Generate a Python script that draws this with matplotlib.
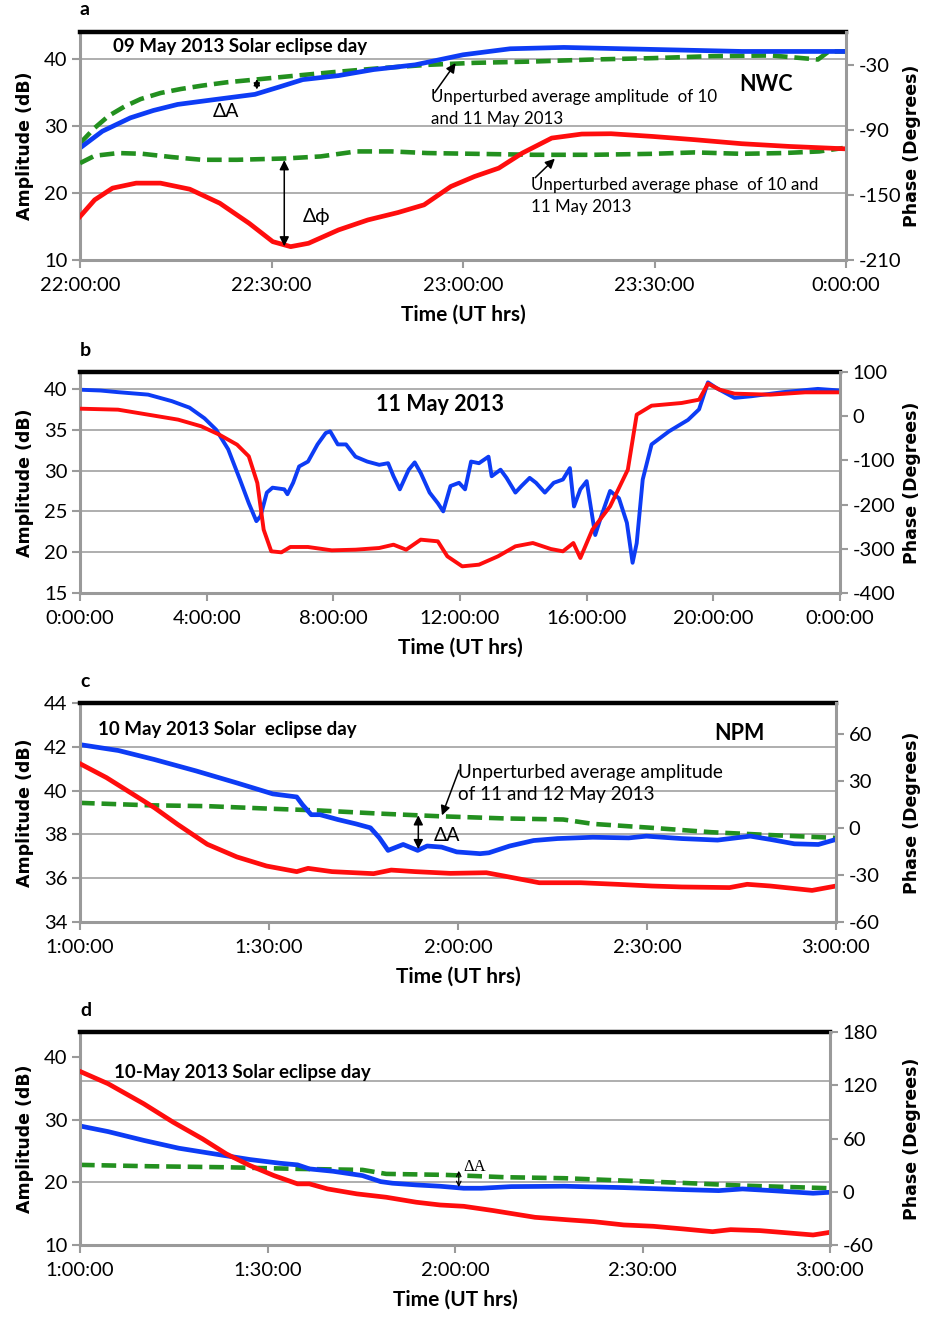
import numpy as np
import matplotlib.pyplot as plt

plt.rcParams['font.family'] = ['Lato', 'DejaVu Sans']
plt.rcParams['axes.unicode_minus'] = False

BLUE = '#0d3cf5'
RED = '#ff0d0d'
GREEN = '#23901f'
SPINE = '#9a9a9a'
GRID = '#a8a8a8'

# ---- panel a : NWC, 09 May 2013, minutes after 22:00 UT ----
a_amp_t = [0, 3.5, 7.9, 11.5, 15.3, 20.9, 27.4, 31.2, 34.9, 40.5, 46.0, 52.5, 56.0, 60.0, 67.4, 75.8, 85.1,
           94.4, 103.7, 113, 120]
a_amp = [26.7, 29.2, 31.2, 32.3, 33.2, 33.9, 34.7, 35.8, 36.9, 37.5, 38.4, 39.1, 39.8, 40.6, 41.5, 41.7,
         41.5, 41.3, 41.1, 41.1, 41.1]
a_amp_ref_t = [0, 2.3, 4.5, 7.0, 9.5, 12.6, 15.8, 19.1, 23.0, 27.4, 33.9, 39.5, 47.0, 54.4, 61.8, 71.1, 80.4,
               89.7, 99.0, 108.3, 115.6, 117.3, 120]
a_amp_ref = [27.4, 29.7, 31.5, 32.9, 34.0, 34.9, 35.5, 36.0, 36.5, 36.9, 37.5, 38.0, 38.6, 39.1, 39.4, 39.6,
             39.9, 40.1, 40.4, 40.5, 39.9, 41.1, 41.1]
a_ph_t = [0, 2.3, 5.1, 8.8, 12.6, 17.2, 21.9, 26.5, 30.2, 33.0, 35.8, 40.5, 45.1, 49.8, 53.9, 58.1, 61.8, 65.6,
          69.3, 73.9, 78.6, 83.2, 89.7, 96.3, 103.7, 111.1, 119.5]
a_ph = [-170, -154.6, -143.8, -139.2, -139.2, -144.8, -157.7, -176.2, -193.1, -197.7, -194.6, -182.3, -173.1,
        -166.3, -159.2, -142.3, -133.1, -125.4, -111.5, -97.7, -94.0, -93.7, -96.2, -99.2, -102.9, -105.4, -107.5]
a_ph_ref_t = [0, 2.3, 6.0, 9.8, 14.4, 19.1, 24.6, 32.1, 37.7, 43.3, 48.8, 54.4, 61.8, 71.1, 80.4, 89.7, 96.3,
              103.7, 110.2, 115.8, 119.5]
a_ph_ref = [-120.8, -114.0, -111.5, -112.2, -115.2, -117.7, -117.7, -116.5, -114.6, -110.0, -110.0, -111.5,
            -112.2, -113.1, -113.1, -112.2, -110.9, -112.2, -111.5, -110.0, -106.9]

# ---- panel b : NWC, 11 May 2013, hours UT ----
b_amp_t = [0, 0.65, 1.2, 2.15, 2.9, 3.46, 3.93, 4.3, 4.68, 5.05, 5.33, 5.57, 5.7, 5.9, 6.08, 6.45, 6.55, 6.73,
           6.92, 7.2, 7.5, 7.76, 7.9, 8.14, 8.4, 8.7, 9.07, 9.45, 9.73, 9.9, 10.1, 10.38, 10.57, 10.76, 11.04,
           11.3, 11.47, 11.7, 11.97, 12.16, 12.35, 12.6, 12.9, 13.0, 13.28, 13.47, 13.75, 13.94, 14.2, 14.4,
           14.68, 14.96, 15.25, 15.47, 15.6, 15.8, 16.0, 16.27, 16.46, 16.74, 17.02, 17.27, 17.45, 17.58,
           17.77, 18.05, 18.6, 19.2, 19.55, 19.83, 20.1, 20.67, 21.2, 22.2, 23.3, 24]
b_amp = [39.9, 39.8, 39.6, 39.3, 38.5, 37.7, 36.4, 35.0, 32.6, 28.9, 26.0, 23.8, 24.4, 27.3, 27.9, 27.7, 27.1,
         28.5, 30.5, 31.1, 33.2, 34.6, 34.8, 33.2, 33.2, 31.7, 31.1, 30.7, 30.9, 29.3, 27.7, 30.1, 31.0, 29.7,
         27.3, 26.0, 25.0, 28.1, 28.5, 27.7, 31.1, 30.9, 31.7, 29.3, 30.1, 29.1, 27.3, 28.1, 29.1, 28.5, 27.3,
         28.5, 28.9, 30.3, 25.6, 27.7, 28.7, 22.1, 24.4, 27.5, 26.6, 23.6, 18.7, 21.1, 28.9, 33.2, 34.8, 36.2,
         37.5, 40.8, 40.1, 38.9, 39.1, 39.6, 40.0, 39.8]
b_ph_t = [0, 1.2, 2.15, 3.1, 3.83, 4.4, 4.96, 5.33, 5.6, 5.8, 6.04, 6.36, 6.64, 7.2, 7.95, 8.7, 9.45, 9.9, 10.3,
          10.76, 11.3, 11.6, 12.07, 12.6, 13.2, 13.75, 14.3, 14.87, 15.25, 15.58, 15.8, 16.18, 16.74, 17.3,
          17.58, 18.05, 19.0, 19.55, 19.83, 20.2, 20.67, 21.8, 22.9, 24]
b_ph = [17.0, 14.8, 3.5, -7.8, -22.9, -41.8, -64.4, -90.8, -151.1, -256.7, -305.7, -308.0, -295.9, -295.9,
        -303.5, -302.0, -298.2, -290.7, -302.0, -279.3, -283.1, -317.0, -339.7, -335.9, -317.0, -294.4,
        -286.9, -300.5, -305.7, -286.9, -320.8, -256.7, -203.9, -120.9, 3.5, 23.8, 29.9, 37.4, 73.6, 60.0,
        51.0, 48.7, 54.0, 54.0]

# ---- panel c : NPM, 10 May 2013, minutes after 1:00 UT ----
c_amp_t = [0, 6.1, 11.8, 18.4, 24.9, 30.6, 34.4, 35.3, 36.7, 38.1, 40.9, 43.8, 46.1, 47.5, 48.9, 51.3, 53.6,
           55.1, 57.4, 59.8, 63.5, 64.9, 68.2, 72.0, 75.8, 81.4, 87.1, 89.9, 95.5, 101.2, 106.4, 109.6, 113.4,
           117.2, 120]
c_amp = [42.1, 41.83, 41.42, 40.9, 40.35, 39.85, 39.71, 39.36, 38.9, 38.9, 38.68, 38.48, 38.3, 37.85, 37.27,
         37.54, 37.27, 37.47, 37.42, 37.2, 37.12, 37.16, 37.47, 37.72, 37.81, 37.87, 37.84, 37.92, 37.81,
         37.74, 37.92, 37.77, 37.57, 37.54, 37.77]
c_amp_ref_t = [0, 10.8, 20.2, 29.6, 38.1, 47.5, 56.9, 67.3, 76.7, 81.4, 90.8, 100.2, 109.6, 120]
c_amp_ref = [39.44, 39.33, 39.29, 39.18, 39.09, 38.95, 38.83, 38.73, 38.68, 38.48, 38.3, 38.1, 37.97, 37.84]
c_ph_t = [0, 4.2, 8.0, 11.8, 15.5, 20.2, 24.9, 29.6, 34.4, 36.2, 40.0, 46.6, 49.4, 53.2, 58.8, 64.5, 67.3,
          72.9, 79.5, 85.2, 90.8, 95.5, 103.1, 105.9, 109.6, 116.2, 120]
c_ph = [41.2, 32.3, 22.7, 13.1, 2.4, -10.3, -18.4, -24.2, -27.8, -25.7, -27.8, -29.1, -26.8, -27.8, -28.9,
        -28.5, -30.6, -34.9, -34.9, -35.9, -37.0, -37.6, -38.0, -35.9, -37.0, -39.8, -37.0]

# ---- panel d : 10 May 2013, minutes after 1:00 UT ----
d_amp_t = [0, 4.5, 10.2, 15.8, 21.5, 27.2, 32.0, 34.8, 36.7, 40.5, 45.2, 48.1, 50.0, 53.8, 57.6, 61.4, 64.2,
           69.0, 77.5, 87.0, 96.5, 102.2, 106.0, 110.7, 117.3, 120]
d_amp = [29.0, 28.1, 26.7, 25.45, 24.54, 23.64, 23.05, 22.79, 22.15, 21.77, 21.08, 20.12, 19.86, 19.59, 19.38,
         19.06, 19.06, 19.32, 19.38, 19.16, 18.84, 18.68, 18.95, 18.68, 18.26, 18.42]
d_amp_ref_t = [0, 11.1, 23.4, 34.8, 45.2, 49.0, 58.5, 68.0, 77.5, 87.0, 96.5, 106.0, 120]
d_amp_ref = [22.79, 22.57, 22.41, 22.15, 21.99, 21.35, 21.19, 20.82, 20.66, 20.28, 19.91, 19.48, 19.06]
d_ph_t = [0, 4.5, 10.2, 14.9, 19.6, 23.4, 27.2, 31.0, 34.8, 36.7, 39.6, 44.3, 49.0, 53.8, 57.6, 61.4, 66.1,
          72.8, 78.4, 82.2, 87.0, 91.7, 96.5, 101.2, 104.1, 108.8, 113.5, 117.3, 120]
d_ph = [135.6, 121.7, 99.1, 78.4, 59.6, 42.7, 29.5, 18.3, 8.9, 8.9, 3.2, -2.4, -6.2, -11.8, -14.9, -16.4,
        -21.2, -28.8, -31.8, -33.7, -37.4, -38.9, -41.9, -45.0, -42.7, -43.8, -46.5, -48.7, -45.7]

half_hour_ticks = [0, 30, 60, 90, 120]
a_xlabels = ['22:00:00', '22:30:00', '23:00:00', '23:30:00', '0:00:00']
b_xticks = [0, 4, 8, 12, 16, 20, 24]
b_xlabels = ['0:00:00', '4:00:00', '8:00:00', '12:00:00', '16:00:00', '20:00:00', '0:00:00']
cd_xlabels = ['1:00:00', '1:30:00', '2:00:00', '2:30:00', '3:00:00']

YLAB_FONT = ['DejaVu Sans']

fig = plt.figure(figsize=(9.29, 13.18), dpi=100)
W, H = 929.0, 1318.0


def make_panel(fig, box, letter, xlim, xticks, xlabels, ylim, yticks, y2lim, y2ticks, grid=None):
    x0, x1, y0, y1 = box
    ax = fig.add_axes([x0 / W, 1 - y1 / H, (x1 - x0) / W, (y1 - y0) / H])
    ax2 = ax.twinx()
    ax.set_xlim(*xlim)
    ax.set_ylim(*ylim)
    ax2.set_ylim(*y2lim)
    ax.set_xticks(xticks)
    ax.set_xticklabels(xlabels)
    ax.set_yticks(yticks)
    ax2.set_yticks(y2ticks)
    for s in ['left', 'bottom']:
        ax.spines[s].set_color(SPINE)
        ax.spines[s].set_linewidth(2.2)
    ax.spines['right'].set_visible(False)
    ax.spines['top'].set_color('black')
    ax.spines['top'].set_linewidth(3.2)
    ax2.spines['right'].set_color(SPINE)
    ax2.spines['right'].set_linewidth(2.2)
    for s in ['left', 'bottom', 'top']:
        ax2.spines[s].set_visible(False)
    for a in (ax, ax2):
        a.tick_params(direction='out', length=6, width=1.5, color=SPINE, labelsize=14.5, pad=3)
    ax.tick_params(axis='x', pad=6)
    for g in (grid if grid is not None else yticks[1:]):
        ax.axhline(g, color=GRID, lw=1.3, zorder=0)
    ax.set_xlabel('Time (UT hrs)', fontsize=15, fontweight='bold', labelpad=8)
    ax.set_ylabel('Amplitude (dB)', fontsize=12.5, fontweight='bold', family=YLAB_FONT)
    ax2.set_ylabel('Phase (Degrees)', fontsize=12.5, fontweight='bold', family=YLAB_FONT)
    # fixed label columns so all four panels line up
    ax.yaxis.set_label_coords((34 - x0) / (x1 - x0), 0.5)
    ax2.yaxis.set_label_coords((903 - x0) / (x1 - x0), 0.5)
    ax.text(0.0, 1.06, letter, transform=ax.transAxes, fontsize=14, fontweight='bold', va='bottom')
    return ax, ax2


dash = (3.2, 1.5)

# panel a
ax, ax2 = make_panel(fig, (80, 846, 32, 260), 'a', (0, 120), half_hour_ticks, a_xlabels,
                     (10, 44), [10, 20, 30, 40], (-210, 0), [-210, -150, -90, -30])
ax.plot(a_amp_ref_t, a_amp_ref, color=GREEN, lw=3.3, ls=(0, dash))
ax.plot(a_amp_t, a_amp, color=BLUE, lw=3.4)
ax2.plot(a_ph_ref_t, a_ph_ref, color=GREEN, lw=3.3, ls=(0, dash))
ax2.plot(a_ph_t, a_ph, color=RED, lw=3.4)
ax.text(5.1, 41.9, '09 May 2013 Solar eclipse day', fontsize=13.5, fontweight='bold', va='center')
ax.text(107.5, 36.1, 'NWC', fontsize=15.5, fontweight='bold', ha='center', va='center')
ax.text(55.0, 35.5, 'Unperturbed average amplitude  of 10\nand 11 May 2013', fontsize=12.2,
        va='top', linespacing=1.45)
ax.annotate('', xy=(59.1, 39.7), xytext=(55.3, 34.6),
            arrowprops=dict(arrowstyle='-|>', color='black', lw=1.1, mutation_scale=14))
ax.annotate('', xy=(27.7, 37.4), xytext=(27.7, 35.0),
            arrowprops=dict(arrowstyle='<|-|>', color='black', lw=1.1, mutation_scale=9))
ax.text(22.9, 32.1, '\u0394A', fontsize=14, ha='center', va='center')
ax2.text(70.7, -134.0, 'Unperturbed average phase  of 10 and\n11 May 2013', fontsize=12.2,
         va='top', linespacing=1.45)
ax2.annotate('', xy=(74.7, -114.9), xytext=(71.0, -136.0),
             arrowprops=dict(arrowstyle='-|>', color='black', lw=1.1, mutation_scale=14))
ax2.annotate('', xy=(32.0, -115.5), xytext=(32.0, -200.0),
             arrowprops=dict(arrowstyle='<|-|>', color='black', lw=1.1, mutation_scale=14))
ax2.text(37.1, -170.3, '\u0394\u03d5', fontsize=14, ha='center', va='center')

# panel b
ax, ax2 = make_panel(fig, (80, 840, 372, 593), 'b', (0, 24), b_xticks, b_xlabels,
                     (15, 42.07), [15, 20, 25, 30, 35, 40], (-400, 100), [-400, -300, -200, -100, 0, 100])
ax.plot(b_amp_t, b_amp, color=BLUE, lw=2.8)
ax2.plot(b_ph_t, b_ph, color=RED, lw=2.8)
ax.text(11.38, 38.05, '11 May 2013', fontsize=15.5, fontweight='bold', ha='center', va='center')

# panel c
ax, ax2 = make_panel(fig, (80, 836, 703, 922), 'c', (0, 120), half_hour_ticks, cd_xlabels,
                     (34, 44), [34, 36, 38, 40, 42, 44], (-60, 80), [-60, -30, 0, 30, 60],
                     grid=[36, 38, 40, 42])
ax.plot(c_amp_ref_t, c_amp_ref, color=GREEN, lw=3.3, ls=(0, dash))
ax.plot(c_amp_t, c_amp, color=BLUE, lw=3.4)
ax2.plot(c_ph_t, c_ph, color=RED, lw=3.4)
ax.text(2.9, 42.77, '10 May 2013 Solar  eclipse day', fontsize=13.5, fontweight='bold', va='center')
ax.text(104.6, 42.6, 'NPM', fontsize=15.5, fontweight='bold', ha='center', va='center')
ax.text(60.0, 41.2, 'Unperturbed average amplitude\nof 11 and 12 May 2013', fontsize=13.6,
        va='top', linespacing=1.3)
ax.annotate('', xy=(57.3, 38.75), xytext=(60.3, 41.05),
            arrowprops=dict(arrowstyle='-|>', color='black', lw=1.1, mutation_scale=14))
ax.annotate('', xy=(53.7, 39.0), xytext=(53.7, 37.2),
            arrowprops=dict(arrowstyle='<|-|>', color='black', lw=1.1, mutation_scale=14))
ax.text(58.3, 37.93, '\u0394A', fontsize=14, ha='center', va='center')

# panel d
ax, ax2 = make_panel(fig, (80, 830, 1032, 1245), 'd', (0, 120), half_hour_ticks, cd_xlabels,
                     (10, 44), [10, 20, 30, 40], (-60, 180), [-60, 0, 60, 120, 180],
                     grid=[20, 30, 36.2])
ax.plot(d_amp_ref_t, d_amp_ref, color=GREEN, lw=3.3, ls=(0, dash))
ax.plot(d_amp_t, d_amp, color=BLUE, lw=3.4)
ax2.plot(d_ph_t, d_ph, color=RED, lw=3.4)
ax.text(5.4, 37.5, '10-May 2013 Solar eclipse day', fontsize=13.5, fontweight='bold', va='center')
ax.annotate('', xy=(60.6, 22.3), xytext=(60.6, 18.8),
            arrowprops=dict(arrowstyle='<->', color='black', lw=0.9, mutation_scale=8))
ax.text(61.3, 22.5, '\u0394A', fontsize=12, family=['Liberation Serif', 'DejaVu Serif'], va='center')

fig.savefig('out.png', dpi=100)
